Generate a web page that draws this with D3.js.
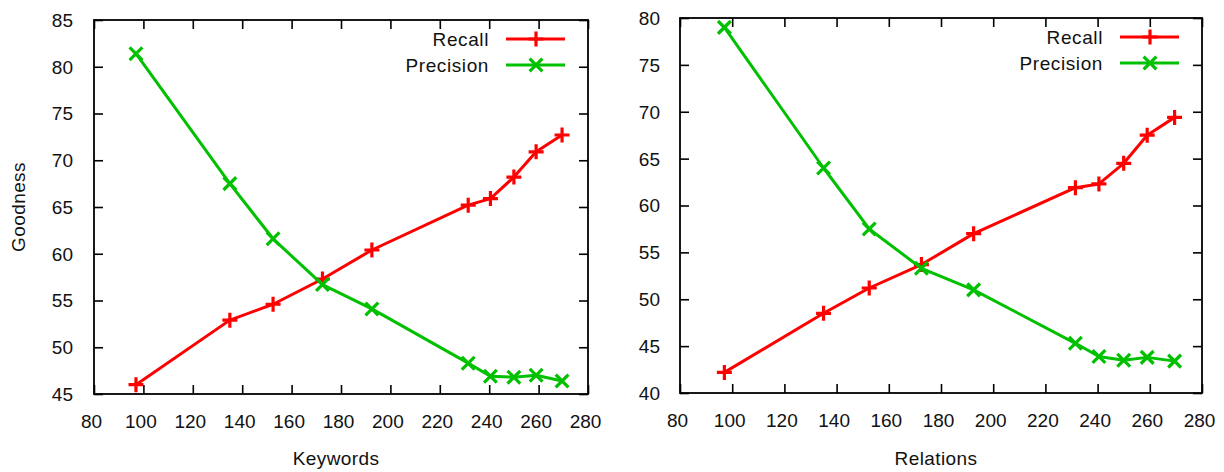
<!DOCTYPE html>
<html>
<head>
<meta charset="utf-8">
<script src="https://cdn.jsdelivr.net/npm/d3@7"></script>
<style>
  html, body { margin: 0; padding: 0; background: #fff; }
  svg { display: block; }
  text { font-family: "Liberation Sans", Arial, sans-serif; fill: #111; }
</style>
</head>
<body>
<svg id="chart" width="1224" height="472"></svg>
<script>
// ---- Data ----
const xValues = [97, 135, 152.5, 172.5, 192.5, 231.5, 240.5, 250, 259, 269.5];
const keywordsRecall = [46.0, 52.9, 54.6, 57.3, 60.4, 65.2, 65.9, 68.2, 70.9, 72.7];
const keywordsPrecision = [81.4, 67.5, 61.6, 56.7, 54.1, 48.3, 46.9, 46.8, 47.0, 46.4];
const relationsRecall = [42.2, 48.5, 51.2, 53.7, 57.0, 61.9, 62.3, 64.5, 67.5, 69.4];
const relationsPrecision = [79.0, 64.0, 57.5, 53.3, 51.0, 45.3, 43.9, 43.5, 43.8, 43.4];
const xTicks = [80, 100, 120, 140, 160, 180, 200, 220, 240, 260, 280];
const keywordsYTicks = [45, 50, 55, 60, 65, 70, 75, 80, 85];
const relationsYTicks = [40, 45, 50, 55, 60, 65, 70, 75, 80];
const seriesNames = ["Recall", "Precision"];
const seriesColors = ["#ff0000", "#00c000"];

const svg = d3.select("#chart");

function markerPath(type, cx, cy, r) {
  if (type === "plus") {
    return `M${cx - r},${cy}L${cx + r},${cy}M${cx},${cy - r}L${cx},${cy + r}`;
  }
  const d = r * 0.85;
  return `M${cx - d},${cy - d}L${cx + d},${cy + d}M${cx - d},${cy + d}L${cx + d},${cy - d}`;
}

function panel(cfg) {
  const { left, right, top, bottom, yTicks, recall, precision, xLabel, yLabel } = cfg;
  const x = d3.scaleLinear().domain([80, 280]).range([left, right]);
  const y = d3.scaleLinear().domain([yTicks[0], yTicks[yTicks.length - 1]]).range([bottom, top]);
  const g = svg.append("g");
  const fs = 19;

  const bottomAxis = g.append("g").attr("transform", `translate(0,${bottom})`)
    .call(d3.axisBottom(x).tickValues(xTicks).tickSizeInner(-9).tickSizeOuter(0).tickPadding(20.5).tickFormat(d3.format("d")));
  const topAxis = g.append("g").attr("transform", `translate(0,${top})`)
    .call(d3.axisTop(x).tickValues(xTicks).tickSizeInner(-9).tickSizeOuter(0).tickFormat(""));
  const leftAxis = g.append("g").attr("transform", `translate(${left},0)`)
    .call(d3.axisLeft(y).tickValues(yTicks).tickSizeInner(-9).tickSizeOuter(0).tickPadding(cfg.yPad).tickFormat(d3.format("d")));
  const rightAxis = g.append("g").attr("transform", `translate(${right},0)`)
    .call(d3.axisRight(y).tickValues(yTicks).tickSizeInner(-9).tickSizeOuter(0).tickFormat(""));

  [bottomAxis, topAxis, leftAxis, rightAxis].forEach(a => {
    a.select(".domain").remove();
    a.selectAll(".tick line").attr("stroke", "#000").attr("stroke-width", 1.6);
    a.selectAll("text").attr("font-size", fs).attr("font-family", "Liberation Sans, Arial, sans-serif").attr("fill", "#111");
  });
  bottomAxis.selectAll("text").attr("dx", -3);
  leftAxis.selectAll("text").attr("dy", "0.34em");

  g.append("rect").attr("x", left).attr("y", top).attr("width", right - left).attr("height", bottom - top)
    .attr("fill", "none").attr("stroke", "#000").attr("stroke-width", 1.8);

  g.append("text").attr("x", (left + right) / 2 - 5).attr("y", 465).attr("text-anchor", "middle")
    .attr("font-size", fs).attr("letter-spacing", 0.4).text(xLabel);
  if (yLabel) {
    g.append("text").attr("transform", `translate(25,${(top + bottom) / 2}) rotate(-90)`)
      .attr("text-anchor", "middle").attr("font-size", fs).attr("letter-spacing", 0.4).text(yLabel);
  }

  const line = d3.line().x((d, i) => x(xValues[i])).y(d => y(d));
  const series = [recall, precision];
  const markers = ["plus", "cross"];
  series.forEach((vals, si) => {
    g.append("path").datum(vals).attr("d", line).attr("fill", "none")
      .attr("stroke", seriesColors[si]).attr("stroke-width", 3).attr("stroke-linejoin", "round");
    g.append("g").selectAll("path").data(vals).join("path")
      .attr("d", (d, i) => markerPath(markers[si], x(xValues[i]), y(d), 7.5))
      .attr("stroke", seriesColors[si]).attr("stroke-width", 3.2).attr("fill", "none");
  });

  seriesNames.forEach((name, si) => {
    const ly = top + 19 + si * 26;
    g.append("text").attr("x", right - 99).attr("y", ly).attr("dy", "0.35em")
      .attr("text-anchor", "end").attr("font-size", fs).attr("letter-spacing", 0.6).text(name);
    g.append("line").attr("x1", right - 82).attr("x2", right - 23).attr("y1", ly).attr("y2", ly)
      .attr("stroke", seriesColors[si]).attr("stroke-width", 3);
    g.append("path").attr("d", markerPath(markers[si], right - 52, ly, 7.5))
      .attr("stroke", seriesColors[si]).attr("stroke-width", 3.2).attr("fill", "none");
  });
}

panel({ left: 94, right: 588, top: 20, bottom: 394, yTicks: keywordsYTicks,
        recall: keywordsRecall, precision: keywordsPrecision, xLabel: "Keywords", yLabel: "Goodness", yPad: 21 });
panel({ left: 680, right: 1202, top: 18, bottom: 393, yTicks: relationsYTicks,
        recall: relationsRecall, precision: relationsPrecision, xLabel: "Relations", yLabel: null, yPad: 20 });
</script>
</body>
</html>
